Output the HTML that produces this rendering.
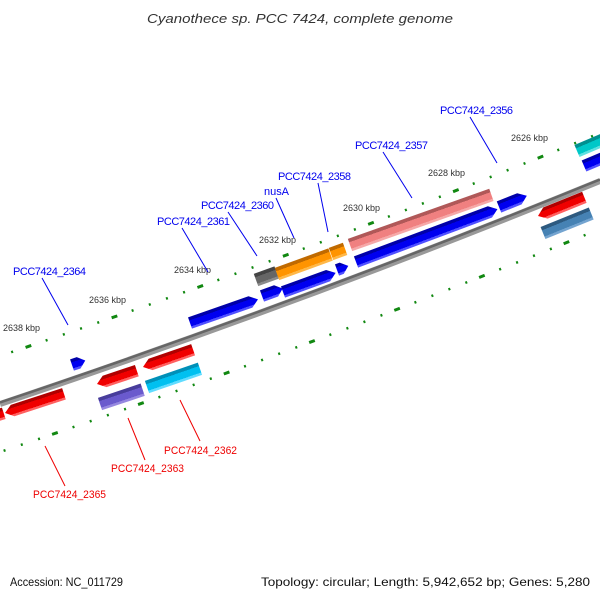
<!DOCTYPE html>
<html><head><meta charset="utf-8"><style>
html,body{margin:0;padding:0;background:#fff;}
svg{display:block;font-family:"Liberation Sans",sans-serif;}
</style></head><body>
<svg width="600" height="600" viewBox="0 0 600 600" xmlns="http://www.w3.org/2000/svg">
<defs>
<linearGradient id="gb" x1="0" y1="0" x2="0" y2="1"><stop offset="0" stop-color="#0000a8"/><stop offset=".28" stop-color="#0000a8"/><stop offset=".28" stop-color="#0000f0"/><stop offset=".8" stop-color="#0000f0"/><stop offset=".8" stop-color="#5050ff"/><stop offset="1" stop-color="#5050ff"/></linearGradient>
<linearGradient id="gr" x1="0" y1="0" x2="0" y2="1"><stop offset="0" stop-color="#b00000"/><stop offset=".28" stop-color="#b00000"/><stop offset=".28" stop-color="#f00000"/><stop offset=".8" stop-color="#f00000"/><stop offset=".8" stop-color="#ff6060"/><stop offset="1" stop-color="#ff6060"/></linearGradient>
<linearGradient id="gp" x1="0" y1="0" x2="0" y2="1"><stop offset="0" stop-color="#b05858"/><stop offset=".28" stop-color="#b05858"/><stop offset=".28" stop-color="#f08080"/><stop offset=".8" stop-color="#f08080"/><stop offset=".8" stop-color="#f6a8a8"/><stop offset="1" stop-color="#f6a8a8"/></linearGradient>
<linearGradient id="go" x1="0" y1="0" x2="0" y2="1"><stop offset="0" stop-color="#c06a00"/><stop offset=".28" stop-color="#c06a00"/><stop offset=".28" stop-color="#ff9400"/><stop offset=".8" stop-color="#ff9400"/><stop offset=".8" stop-color="#ffb848"/><stop offset="1" stop-color="#ffb848"/></linearGradient>
<linearGradient id="gg" x1="0" y1="0" x2="0" y2="1"><stop offset="0" stop-color="#444"/><stop offset=".28" stop-color="#444"/><stop offset=".28" stop-color="#666"/><stop offset=".8" stop-color="#666"/><stop offset=".8" stop-color="#8a8a8a"/><stop offset="1" stop-color="#8a8a8a"/></linearGradient>
<linearGradient id="gc" x1="0" y1="0" x2="0" y2="1"><stop offset="0" stop-color="#0090b8"/><stop offset=".28" stop-color="#0090b8"/><stop offset=".28" stop-color="#00c0f0"/><stop offset=".8" stop-color="#00c0f0"/><stop offset=".8" stop-color="#60dcff"/><stop offset="1" stop-color="#60dcff"/></linearGradient>
<linearGradient id="gt" x1="0" y1="0" x2="0" y2="1"><stop offset="0" stop-color="#009090"/><stop offset=".28" stop-color="#009090"/><stop offset=".28" stop-color="#00c8c8"/><stop offset=".8" stop-color="#00c8c8"/><stop offset=".8" stop-color="#60e0e0"/><stop offset="1" stop-color="#60e0e0"/></linearGradient>
<linearGradient id="gu" x1="0" y1="0" x2="0" y2="1"><stop offset="0" stop-color="#483d9b"/><stop offset=".28" stop-color="#483d9b"/><stop offset=".28" stop-color="#6a5acd"/><stop offset=".8" stop-color="#6a5acd"/><stop offset=".8" stop-color="#9688e0"/><stop offset="1" stop-color="#9688e0"/></linearGradient>
<linearGradient id="gs" x1="0" y1="0" x2="0" y2="1"><stop offset="0" stop-color="#2d5a80"/><stop offset=".28" stop-color="#2d5a80"/><stop offset=".28" stop-color="#4682b4"/><stop offset=".8" stop-color="#4682b4"/><stop offset=".8" stop-color="#74a4d0"/><stop offset="1" stop-color="#74a4d0"/></linearGradient>
</defs>

<text x="147" y="23" font-size="13" font-style="italic" fill="#333" textLength="306" lengthAdjust="spacingAndGlyphs">Cyanothece sp. PCC 7424, complete genome</text>

<g fill="none" stroke="#118811">
<path d="M0,356 Q300,255.5 600,133" stroke-width="2.5" stroke-dasharray="2 16.2" stroke-dashoffset="-11.8"/>
<path d="M0,356 Q300,255.5 600,133" stroke-width="3" stroke-dasharray="6 85" stroke-dashoffset="-27"/>
<path d="M0,452 Q300,351.5 600,229" stroke-width="2.5" stroke-dasharray="2 16.2" stroke-dashoffset="-3.8"/>
<path d="M0,452 Q300,351.5 600,229" stroke-width="3" stroke-dasharray="6 85" stroke-dashoffset="-55"/>
</g>

<path d="M0,404 Q300,303.5 600,181" fill="none" stroke="#999" stroke-width="6"/>
<path d="M0,402.5 Q300,302 600,179.5" fill="none" stroke="#666" stroke-width="2.5"/>

<g font-size="9" fill="#333">
<text x="511" y="141">2626 kbp</text>
<text x="428" y="176">2628 kbp</text>
<text x="343" y="211">2630 kbp</text>
<text x="259" y="243">2632 kbp</text>
<text x="174" y="273">2634 kbp</text>
<text x="89" y="303">2636 kbp</text>
<text x="3" y="331">2638 kbp</text>
</g>

<g fill="url(#gb)">
<g transform="translate(190,323) rotate(-19.2)"><polygon points="0,-6 64,-6 72,0 64,6 0,6"/></g>
<g transform="translate(262,296) rotate(-20)"><polygon points="0,-6 15,-6 22,0 15,6 0,6"/></g>
<g transform="translate(283,292) rotate(-20)"><polygon points="0,-6 48,-6 56,0 48,6 0,6"/></g>
<g transform="translate(337,270) rotate(-20)"><polygon points="0,-6 5,-6 12,0 5,6 0,6"/></g>
<g transform="translate(356,262) rotate(-20.5)"><polygon points="0,-6 143,-6 151,0 143,6 0,6"/></g>
<g transform="translate(499,207) rotate(-22)"><polygon points="0,-6 22,-6 30,0 22,6 0,6"/></g>
<g transform="translate(584,166) rotate(-23)"><polygon points="0,-6 22,-6 30,0 22,6 0,6"/></g>
<g transform="translate(72,365) rotate(-18.6)"><polygon points="0,-6 7,-6 14,0 7,6 0,6"/></g>
</g>
<g transform="translate(256,280) rotate(-20)"><rect x="0" y="-6.5" width="22" height="13" fill="url(#gg)"/></g>
<g transform="translate(277,274) rotate(-20)"><rect x="0" y="-6.5" width="57" height="13" fill="url(#go)"/></g>
<g transform="translate(331,254) rotate(-20)"><rect x="0" y="-6.5" width="15" height="13" fill="url(#go)"/></g>
<g transform="translate(350,245) rotate(-19.5)"><rect x="0" y="-6.5" width="150" height="13" fill="url(#gp)"/></g>
<g transform="translate(577,151) rotate(-23)"><rect x="0" y="-6.5" width="30" height="13" fill="url(#gt)"/></g>

<g fill="url(#gr)">
<g transform="translate(-20,421) rotate(-18)"><rect x="0" y="-6" width="25" height="12"/></g>
<g transform="translate(5,413) rotate(-18)"><polygon points="0,0 8,-6 62,-6 62,6 8,6"/></g>
<g transform="translate(97,384) rotate(-18.5)"><polygon points="0,0 8,-6 42,-6 42,6 8,6"/></g>
<g transform="translate(143,367) rotate(-19)"><polygon points="0,0 8,-6 53,-6 53,6 8,6"/></g>
<g transform="translate(538,216) rotate(-22)"><polygon points="0,0 8,-6 50,-6 50,6 8,6"/></g>
</g>
<g transform="translate(100,404) rotate(-18.5)"><rect x="0" y="-6.5" width="45" height="13" fill="url(#gu)"/></g>
<g transform="translate(147,387) rotate(-19)"><rect x="0" y="-6.5" width="56" height="13" fill="url(#gc)"/></g>
<g transform="translate(543,233) rotate(-22)"><rect x="0" y="-6.5" width="52" height="13" fill="url(#gs)"/></g>

<g stroke="#0000ee" stroke-width="1">
<line x1="470" y1="117" x2="497" y2="163"/>
<line x1="383" y1="152" x2="412" y2="198"/>
<line x1="318" y1="183" x2="328" y2="232"/>
<line x1="276" y1="198" x2="294" y2="238"/>
<line x1="228" y1="212" x2="257" y2="256"/>
<line x1="182" y1="228" x2="208" y2="272"/>
<line x1="42" y1="278" x2="68" y2="325"/>
</g>
<g font-size="11" fill="#0000ee" lengthAdjust="spacingAndGlyphs">
<text x="440" y="114" textLength="73">PCC7424_2356</text>
<text x="355" y="149" textLength="73">PCC7424_2357</text>
<text x="278" y="180" textLength="73">PCC7424_2358</text>
<text x="264" y="195" textLength="25">nusA</text>
<text x="201" y="209" textLength="73">PCC7424_2360</text>
<text x="157" y="225" textLength="73">PCC7424_2361</text>
<text x="13" y="275" textLength="73">PCC7424_2364</text>
</g>
<g stroke="#ee0000" stroke-width="1">
<line x1="180" y1="400" x2="200" y2="441"/>
<line x1="128" y1="418" x2="145" y2="460"/>
<line x1="45" y1="446" x2="65" y2="486"/>
</g>
<g font-size="11" fill="#ee0000">
<text x="164" y="454" textLength="73" lengthAdjust="spacingAndGlyphs">PCC7424_2362</text>
<text x="111" y="472" textLength="73" lengthAdjust="spacingAndGlyphs">PCC7424_2363</text>
<text x="33" y="498" textLength="73" lengthAdjust="spacingAndGlyphs">PCC7424_2365</text>
</g>

<text x="10" y="586" font-size="12" fill="#111" textLength="113" lengthAdjust="spacingAndGlyphs">Accession: NC_011729</text>
<text x="261" y="586" font-size="12" fill="#111" textLength="329" lengthAdjust="spacingAndGlyphs">Topology: circular; Length: 5,942,652 bp; Genes: 5,280</text>
</svg>
</body></html>
